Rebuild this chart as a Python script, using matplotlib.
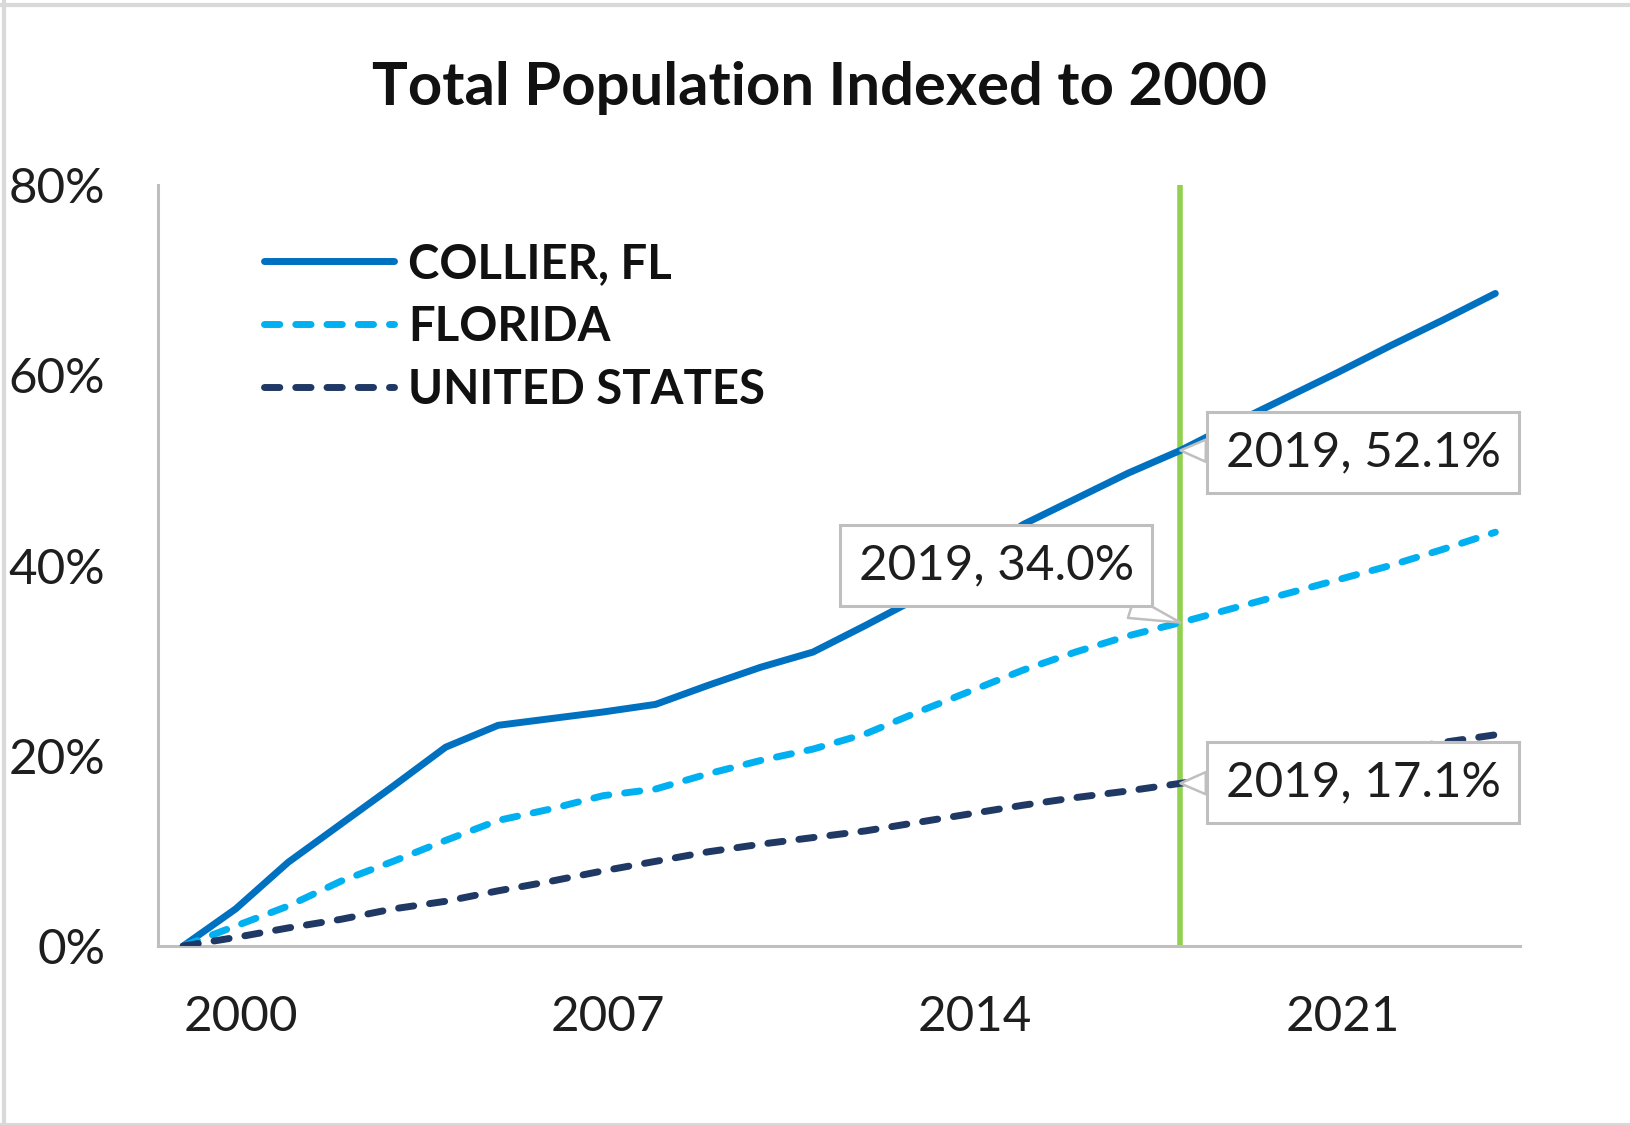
import matplotlib
matplotlib.use("Agg")
import matplotlib.pyplot as plt
from matplotlib.lines import Line2D
import numpy as np

# ---- data ----
years = list(range(2000, 2026))
collier = [0.0, 3.9, 8.8, 12.8, 16.8, 20.9, 23.2, 23.9, 24.6, 25.4, 27.4, 29.3, 30.9,
           33.7, 36.6, 40.4, 44.3, 47.0, 49.7, 52.1, 54.9, 57.6, 60.3, 63.1, 65.8, 68.6]
florida = [0.0, 2.1, 4.2, 6.8, 8.9, 11.1, 13.2, 14.4, 15.8, 16.5, 18.1, 19.5, 20.7,
           22.3, 24.6, 26.8, 29.0, 30.9, 32.6, 34.0, 35.5, 37.0, 38.5, 40.0, 41.7, 43.5]
united_states = [0.0, 0.9, 1.9, 2.8, 3.9, 4.7, 5.8, 6.8, 7.9, 8.9, 9.9, 10.7, 11.4,
                 12.1, 13.0, 13.9, 14.8, 15.6, 16.3, 17.1, 17.9, 18.7, 19.6, 20.5, 21.4, 22.2]
series_names = ["COLLIER, FL", "FLORIDA", "UNITED STATES"]
highlight_year = 2019
y_ticks = [0, 20, 40, 60, 80]
x_tick_years = [2000, 2007, 2014, 2021]

FONT = "Lato"
plt.rcParams['font.family'] = [FONT, 'DejaVu Sans']

fig = plt.figure(figsize=(16.30, 11.25), dpi=100)
ax = fig.add_axes([158/1630, 1-946/1125, (1520-158)/1630, (946-185)/1125])

c_col = "#0070C0"
c_fl = "#00B0F0"
c_us = "#1F3864"
lw = 5.0
dash = (2.2, 2.3)

# highlight line
ax.axvline(highlight_year, color="#92D050", lw=4.0, zorder=1)

l1, = ax.plot(years, collier, color=c_col, lw=lw, solid_capstyle='round',
              solid_joinstyle='round', label=series_names[0], zorder=3)
l2, = ax.plot(years, florida, color=c_fl, lw=lw, dash_capstyle='round',
              label=series_names[1], zorder=3)
l2.set_dashes(dash)
l3, = ax.plot(years, united_states, color=c_us, lw=lw, dash_capstyle='round',
              label=series_names[2], zorder=3)
l3.set_dashes(dash)

ax.set_xlim(1999.52, 2025.47)
ax.set_ylim(0, 80)
ax.set_yticks(y_ticks, [f"{v}%" for v in y_ticks])
ax.set_xticks(x_tick_years, [str(y) for y in x_tick_years])
for lab in ax.get_xticklabels():
    lab.set_ha('left')
ax.tick_params(axis='both', length=0, labelsize=35.5, colors="#1E1E1E")
ax.tick_params(axis='y', pad=38)
ax.tick_params(axis='x', pad=35)
for s in ["top", "right"]:
    ax.spines[s].set_visible(False)
for s in ["left", "bottom"]:
    ax.spines[s].set_color("#BFBFBF")
    ax.spines[s].set_linewidth(2.2)

leg = ax.legend(loc="upper left", bbox_to_anchor=(0.064, 0.95), frameon=False,
                prop=dict(family=FONT, weight='bold', size=34),
                handlelength=2.75, handletextpad=0.3, labelspacing=0.4,
                borderaxespad=0)
for t in leg.get_texts():
    t.set_color("#111111")

# callouts
idx = years.index(highlight_year)
callouts = [
    (collier[idx], 2022.48, 51.9),
    (florida[idx], 2015.49, 40.0),
    (united_states[idx], 2022.48, 17.2),
]
for val, tx, ty in callouts:
    ax.annotate(f"{highlight_year}, {val:.1f}%", xy=(highlight_year, val), xytext=(tx, ty),
                ha='center', va='center', fontsize=35.5, color="#1E1E1E", zorder=5,
                bbox=dict(boxstyle="square,pad=0.38", fc="white", ec="#BFBFBF", lw=2.2),
                arrowprops=dict(arrowstyle="wedge,tail_width=0.45,shrink_factor=0.5",
                                fc="white", ec="#BFBFBF", lw=1.8, shrinkA=0, shrinkB=0))

fig.text(819/1630, 1-88/1125, "Total Population Indexed to 2000", ha='center', va='center',
         fontsize=43, fontweight='bold', color="#111111")

# chart-area border (left, top, bottom)
fig.add_artist(Line2D([0.0025, 0.0025], [0, 1], transform=fig.transFigure, color="#D9D9D9", lw=3))
fig.add_artist(Line2D([0, 1], [0.9958, 0.9958], transform=fig.transFigure, color="#D9D9D9", lw=3))
fig.add_artist(Line2D([0, 1], [0.001, 0.001], transform=fig.transFigure, color="#D9D9D9", lw=1.5))

fig.savefig("out.png", dpi=100, facecolor="white")
